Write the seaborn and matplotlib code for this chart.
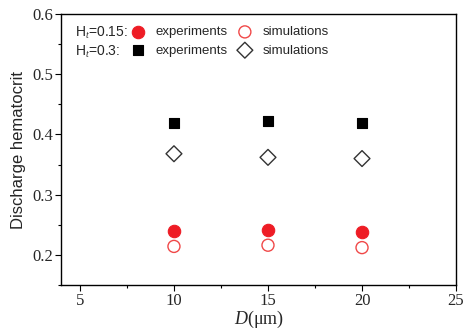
import numpy as np
import pandas as pd
import matplotlib
matplotlib.use('Agg')
import matplotlib.pyplot as plt
import seaborn as sns
from matplotlib.ticker import MultipleLocator

diameters = [10, 15, 20]
exp_015 = [0.239, 0.242, 0.238]
sim_015 = [0.214, 0.216, 0.212]
exp_03 = [0.419, 0.423, 0.419]
sim_03 = [0.368, 0.362, 0.360]

sns.set_style('ticks')
plt.rcParams['font.family'] = ['Liberation Sans', 'DejaVu Sans']
plt.rcParams['mathtext.fontset'] = 'custom'
plt.rcParams['mathtext.rm'] = 'Liberation Sans'
plt.rcParams['mathtext.it'] = 'Liberation Serif:italic'

fig = plt.figure(figsize=(4.63, 3.29), dpi=100)
ax = fig.add_axes([0.132, 0.134, 0.853, 0.823])

red = '#ee1c25'
sns.scatterplot(x=diameters, y=exp_015, ax=ax, marker='o', s=80, color=red,
                edgecolor=red, linewidth=0.8, label='experiments')
sns.scatterplot(x=diameters, y=exp_03, ax=ax, marker='s', s=62, color='black',
                edgecolor='black', linewidth=0.8, label='experiments')
sns.scatterplot(x=diameters, y=sim_015, ax=ax, marker='o', s=75, facecolor='none',
                edgecolor='#f04848', linewidth=1.0, label='simulations')
sns.scatterplot(x=diameters, y=sim_03, ax=ax, marker='D', s=65, facecolor='none',
                edgecolor='#333333', linewidth=1.0, label='simulations')

ax.set_xlim(4, 25)
ax.set_ylim(0.15, 0.6)
ax.xaxis.set_minor_locator(MultipleLocator(2.5))
ax.yaxis.set_minor_locator(MultipleLocator(0.05))
ax.set_xticks([5, 10, 15, 20, 25])
ax.set_yticks([0.2, 0.3, 0.4, 0.5, 0.6])
ax.set_yticklabels(['0.2', '0.3', '0.4', '0.5', '0.6'])
ax.tick_params(which='both', direction='out', top=False, right=False, color='black', width=0.8)
ax.tick_params(which='major', length=4, labelsize=12, pad=2)
ax.tick_params(which='minor', length=2.5)
for lab in ax.get_xticklabels() + ax.get_yticklabels():
    lab.set_family('Liberation Serif')
for sp in ax.spines.values():
    sp.set_visible(True)
    sp.set_color('black')
    sp.set_linewidth(1.0)

ax.set_ylabel('Discharge hematocrit', fontsize=12, labelpad=4)
ax.set_xlabel(r'$\mathit{D}$(μm)', fontsize=13, family='Liberation Serif', labelpad=0)

h, l = ax.get_legend_handles_labels()
ax.legend(h, l, ncol=2, loc='upper left', bbox_to_anchor=(0.154, 0.985), frameon=False,
          fontsize=9.5, handletextpad=0.75, columnspacing=0.7, labelspacing=0.46,
          handlelength=1.2, borderaxespad=0.2)
ax.text(0.035, 0.93, 'H$_t$=0.15:', transform=ax.transAxes, fontsize=10, va='center')
ax.text(0.035, 0.86, 'H$_t$=0.3:', transform=ax.transAxes, fontsize=10, va='center')

fig.savefig('out.png', dpi=100)
